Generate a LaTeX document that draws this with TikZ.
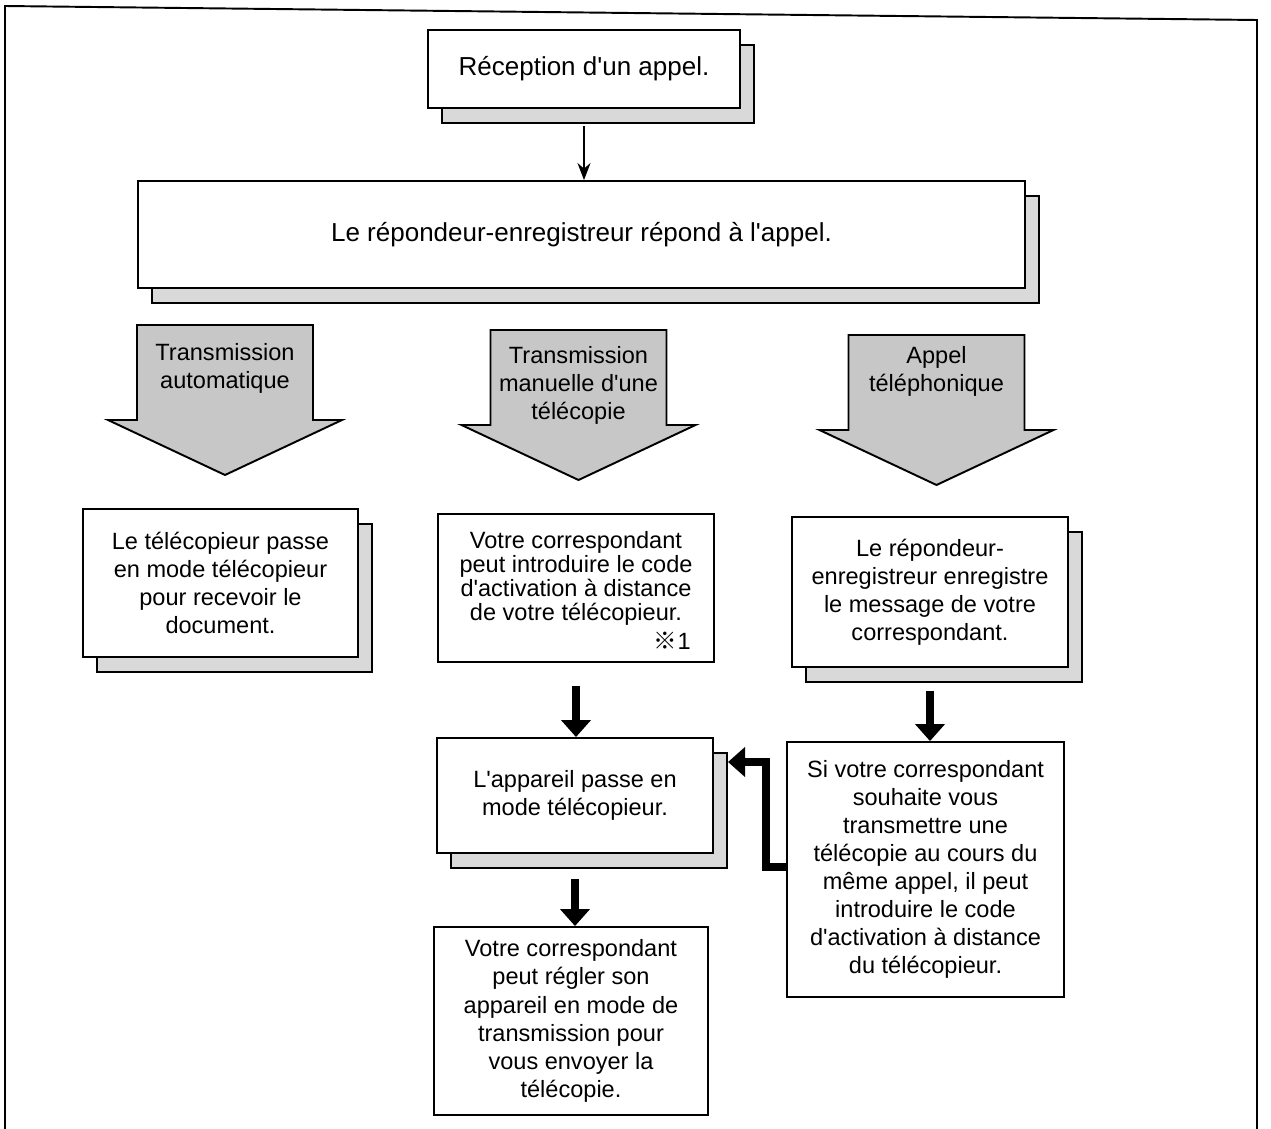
\documentclass[tikz,border=0pt]{standalone}
\usepackage{fontspec}
\setmainfont{Liberation Sans}[Ligatures=TeXOff]
\newfontfamily\refmark{Noto Sans CJK JP}
\usetikzlibrary{positioning,shadows,arrows.meta}

\begin{document}
\begin{tikzpicture}[x=0.02cm, y=-0.02cm,
    panel/.style={draw, line width=1.1pt, fill=white, align=center, inner sep=0pt,
      font=\fontsize{13.4}{16}\selectfont},
    headline/.style={font=\fontsize{14.8}{17}\selectfont},
    shadowed/.style={copy shadow={shadow xshift=0.28cm, shadow yshift=-0.3cm,
      fill=black!15, draw=black, line width=1.1pt, opacity=1}},
    bigarrow/.style={draw, line width=1.1pt, fill=black!22},
    thinarrow/.style={line width=1.2pt, -{Stealth[length=0.34cm, width=0.26cm]}},
    thickarrow/.style={line width=4.5pt, -{Triangle[length=0.34cm, width=0.58cm]}}]
    \useasboundingbox (0,0) rectangle (1271,1129);
    % page frame
    \draw[line width=1.1pt] (5,1129) -- (5,6) -- (1257,20) -- (1257,1129);

    \node[panel, headline, shadowed, minimum width=6.24cm, minimum height=1.56cm] (recv) at (584,69) {Réception d'un appel.};
    \node[panel, headline, shadowed, minimum width=17.74cm, minimum height=2.14cm] (answer) at (581.5,234.5) {Le répondeur-enregistreur répond à l'appel.};

    % the three cases
    \foreach \name/\cx/\top/\ty/\txt in {auto/225/325/343/{Transmission\\automatique},
        manual/578.5/330/346/{Transmission\\manuelle d'une\\télécopie},
        phone/936.5/335/346/{Appel\\téléphonique}} {
      \draw[bigarrow] (\cx-88,\top) -- (\cx+88,\top) -- (\cx+88,\top+95) -- (\cx+117,\top+95)
        -- (\cx,\top+150) -- (\cx-117,\top+95) -- (\cx-88,\top+95) -- cycle;
      \node[align=center, inner sep=0pt, anchor=north, font=\fontsize{13.4}{16}\selectfont] (\name) at (\cx,\ty) {\txt};
    }

    \node[panel, shadowed, minimum width=5.5cm, minimum height=2.96cm] (faxauto) at (220.5,583) {Le télécopieur passe\\en mode télécopieur\\pour recevoir le\\document.};
    \node[panel, minimum width=5.52cm, minimum height=2.96cm,
      font=\fontsize{13.4}{13.8}\selectfont] (remote) at (576,588) {Votre correspondant\\peut introduire le code\\d'activation à distance\\de votre télécopieur.\\\mbox{}};
    \node[anchor=south east, inner sep=0pt, font=\fontsize{13.4}{13.8}\selectfont] (note) at ([xshift=-0.48cm, yshift=0.26cm]remote.south east) {{\refmark ※}1};
    \node[panel, shadowed, minimum width=5.52cm, minimum height=3cm] (record) at (930,592) {Le répondeur-\\enregistreur enregistre\\le message de votre\\correspondant.};
    \node[panel, shadowed, minimum width=5.52cm, minimum height=2.3cm] (faxmode) at (575,795.5) {L'appareil passe en\\mode télécopieur.};
    \node[panel, minimum width=5.48cm, minimum height=3.76cm] (sender) at (571,1021) {Votre correspondant\\peut régler son\\appareil en mode de\\transmission pour\\vous envoyer la\\télécopie.};
    \node[panel, minimum width=5.54cm, minimum height=5.1cm] (code) at (925.5,869.5) {Si votre correspondant\\souhaite vous\\transmettre une\\télécopie au cours du\\même appel, il peut\\introduire le code\\d'activation à distance\\du télécopieur.};

    \draw[thinarrow] ([yshift=-0.34cm]recv.south) -- (recv.south |- answer.north);
    \draw[thickarrow] ([yshift=-0.46cm]remote.south) -- (remote.south |- faxmode.north);
    \draw[thickarrow] ([yshift=-0.5cm]faxmode.south) -- (faxmode.south |- sender.north);
    \draw[thickarrow] ([yshift=-0.46cm]record.south) -- (record.south |- code.north);
    \coordinate (bend) at (766,867);
    \coordinate (faxin) at (728,762);
    \draw[thickarrow, line width=5pt] (code.west |- bend) -- (bend) |- (faxin);
\end{tikzpicture}
\end{document}
